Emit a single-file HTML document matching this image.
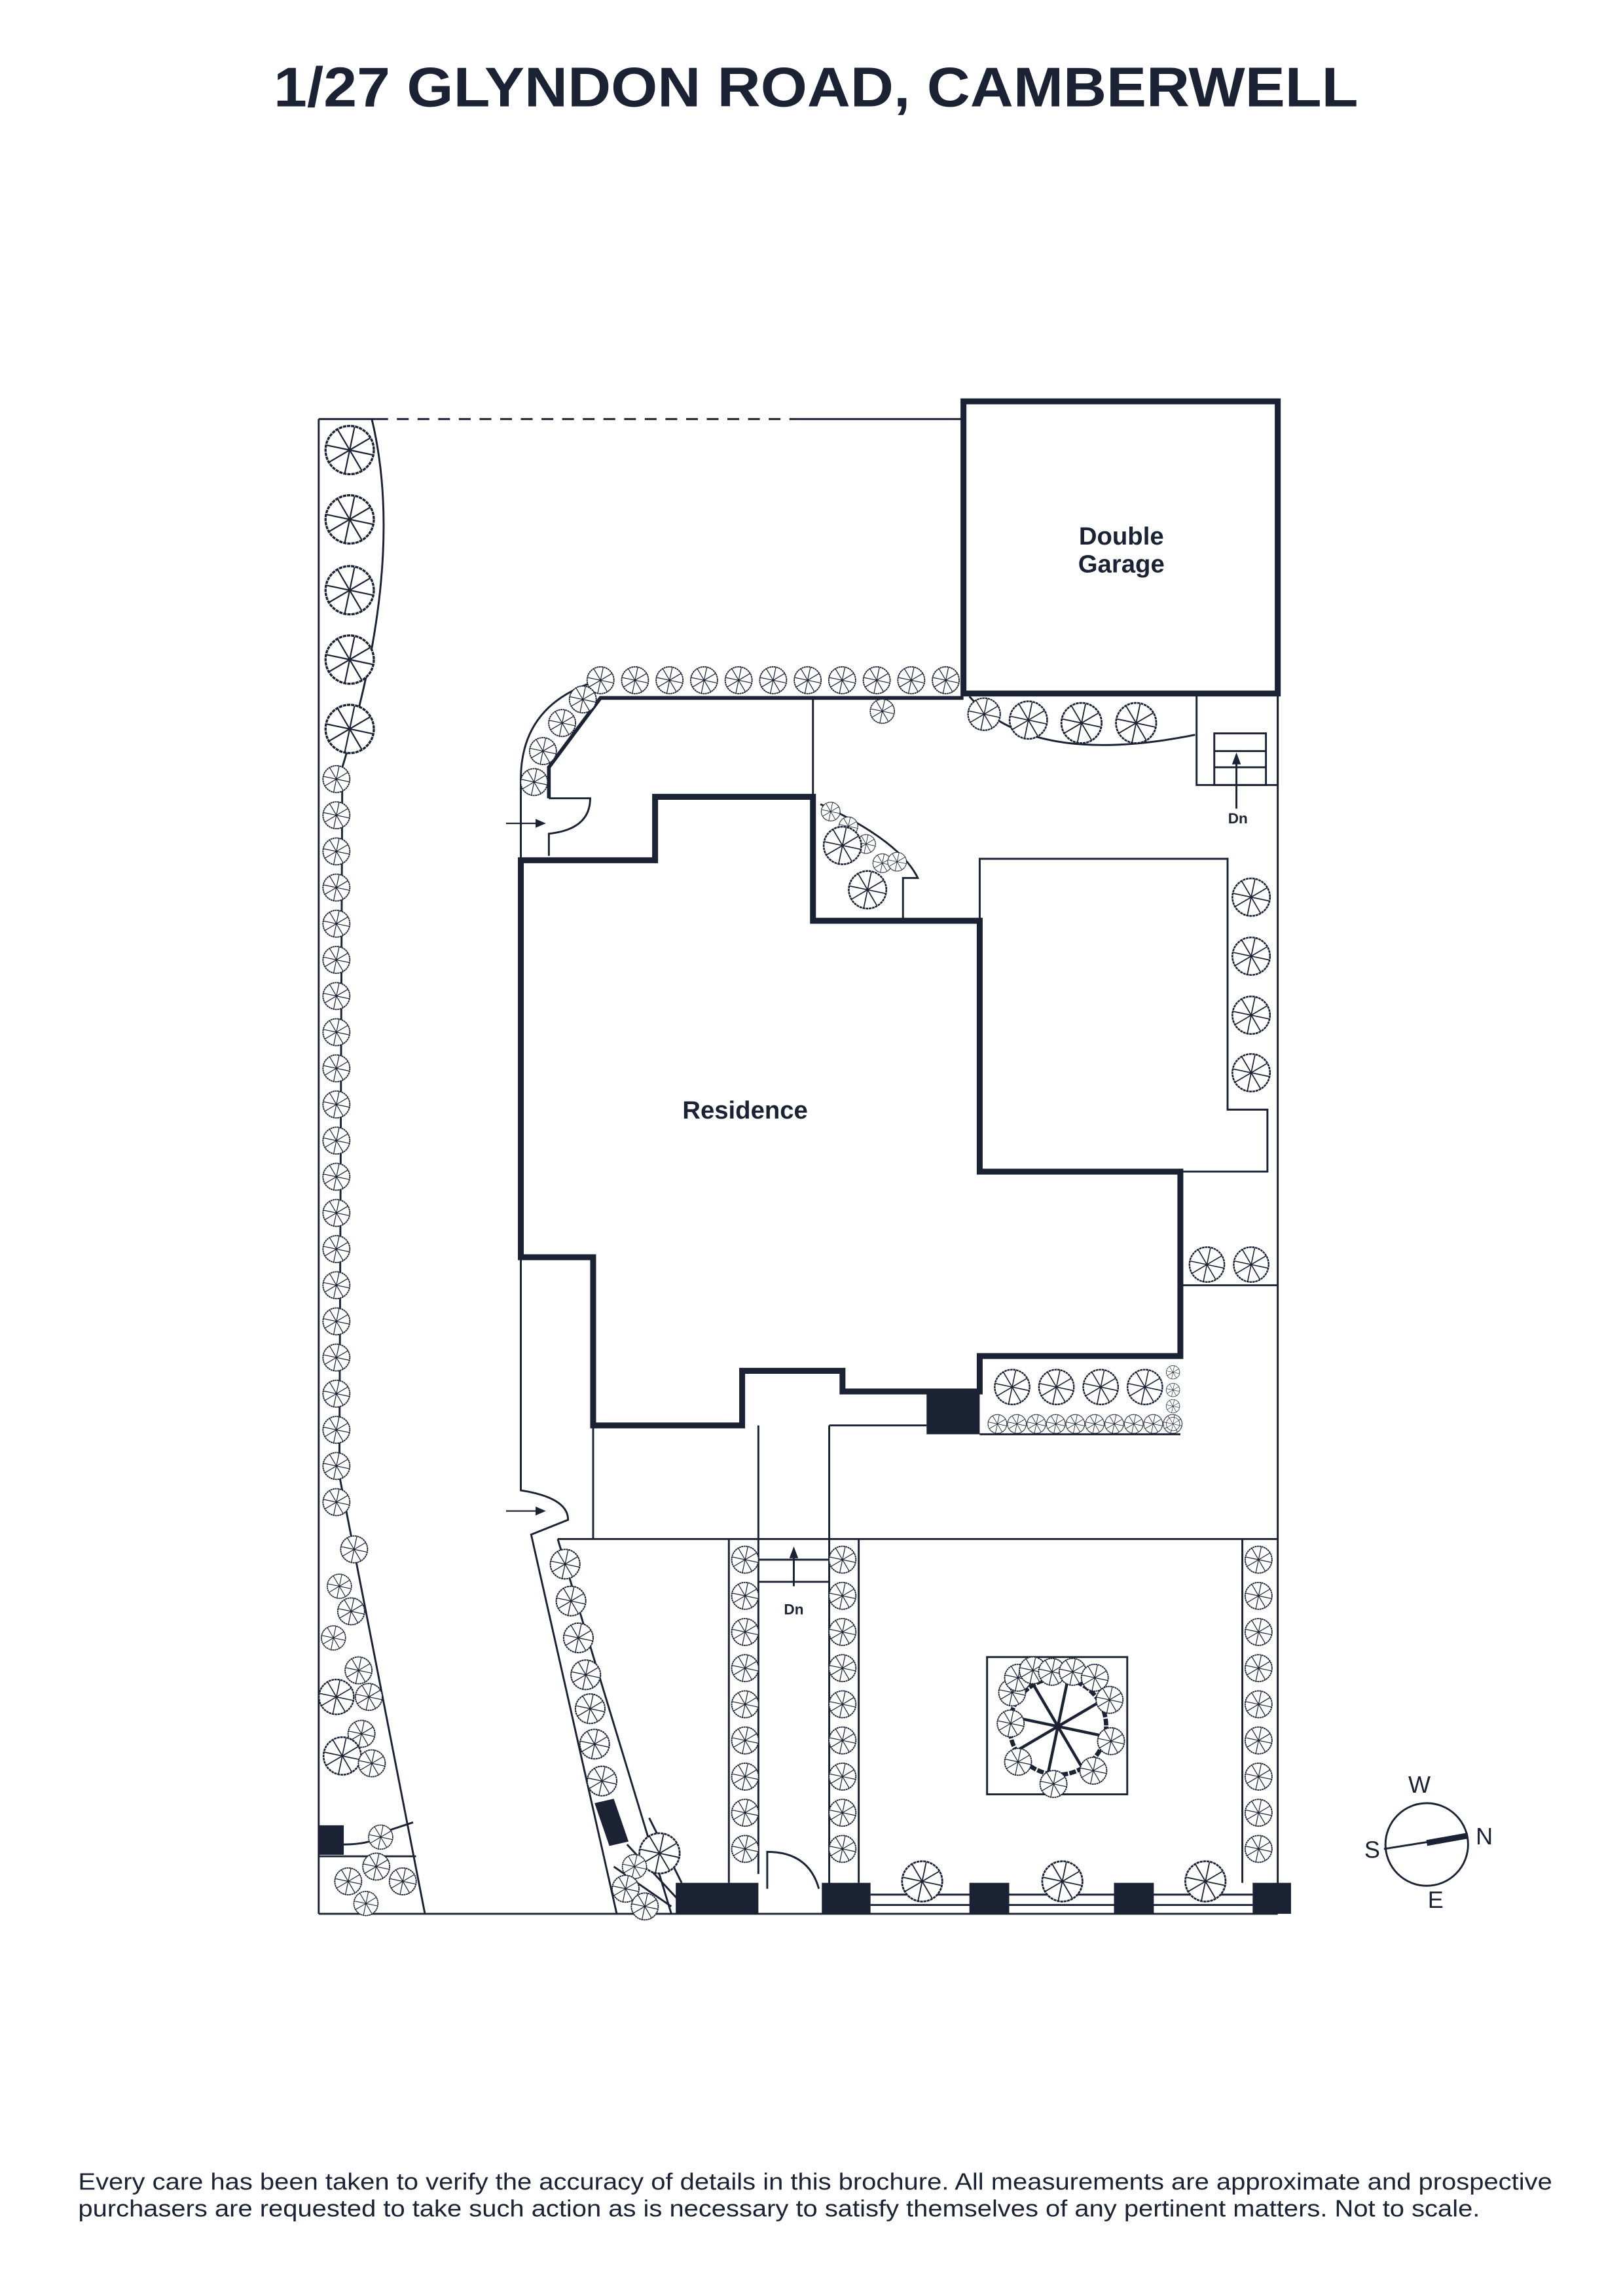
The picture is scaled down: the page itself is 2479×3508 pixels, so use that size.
<!DOCTYPE html>
<html><head><meta charset="utf-8"><style>
html,body{margin:0;padding:0;background:#fff}
svg{display:block}
</style></head><body>
<svg id="s" width="2479" height="3508" viewBox="0 0 1100 1556" preserveAspectRatio="none" xmlns="http://www.w3.org/2000/svg" font-family="Liberation Sans, sans-serif">
<defs>
<symbol id="t" viewBox="-1.1 -1.1 2.2 2.2" overflow="visible">
<circle r="1" fill="#fff" stroke="#1a2233" stroke-width="0.09" stroke-dasharray="0.14 0.03"/>
<g stroke="#1a2233" stroke-width="0.06">
<line x1="0" y1="0" x2="0.2" y2="-0.95"/><line x1="0" y1="0" x2="0.85" y2="-0.5"/><line x1="0" y1="0" x2="0.95" y2="0.2"/><line x1="0" y1="0" x2="0.5" y2="0.85"/><line x1="0" y1="0" x2="-0.2" y2="0.95"/><line x1="0" y1="0" x2="-0.85" y2="0.5"/><line x1="0" y1="0" x2="-0.95" y2="-0.2"/><line x1="0" y1="0" x2="-0.5" y2="-0.85"/>
</g></symbol>
</defs>
<g fill="#1a2233" font-weight="bold">
<text x="553" y="72" font-size="38" text-anchor="middle" textLength="735" lengthAdjust="spacingAndGlyphs">1/27 GLYNDON ROAD, CAMBERWELL</text>
</g>
<g fill="#1a2233" font-size="16">
<text x="53" y="1484" textLength="999" lengthAdjust="spacingAndGlyphs">Every care has been taken to verify the accuracy of details in this brochure. All measurements are approximate and prospective</text>
<text x="53" y="1502" textLength="950" lengthAdjust="spacingAndGlyphs">purchasers are requested to take such action as is necessary to satisfy themselves of any pertinent matters. Not to scale.</text>
</g>
<g fill="none" stroke="#1a2233" stroke-width="1.3">
<line x1="216" y1="284" x2="216" y2="1297"/>
<line x1="216" y1="284" x2="255" y2="284"/>
<line x1="255" y1="284" x2="535" y2="284" stroke-dasharray="8 6"/>
<line x1="535" y1="284" x2="653" y2="284"/>
<line x1="216" y1="1297" x2="866" y2="1297"/>
<line x1="866" y1="470" x2="866" y2="1297"/>
<path d="M252 284 Q275 380 232 520 L230 1000 L288 1297"/>
<path d="M410 460 Q352 475 353 530 L353 583"/>
<line x1="551" y1="473" x2="551" y2="540"/>
<path d="M657 472 Q700 520 810 498"/>
<rect x="811" y="470" width="55" height="62"/>
<rect x="823" y="497" width="35" height="35"/>
<line x1="823" y1="509" x2="858" y2="509"/><line x1="823" y1="520" x2="858" y2="520"/>
<line x1="838" y1="548" x2="838" y2="514"/>
<path d="M664 624 L664 582 L832 582 L832 752 L859 752 L859 794 L800 794"/>
<line x1="800" y1="871" x2="866" y2="871"/>
<line x1="664" y1="972" x2="800" y2="972"/>
<path d="M556 545 Q610 570 622 595 L612 595 L612 624"/>
<line x1="402" y1="966" x2="402" y2="1043"/>
<line x1="378" y1="1043" x2="866" y2="1043"/>
<line x1="514" y1="966" x2="514" y2="1270"/>
<line x1="562" y1="966" x2="562" y2="1278"/>
<line x1="562" y1="966" x2="628" y2="966"/>
<line x1="494" y1="1043" x2="494" y2="1276"/><line x1="582" y1="1043" x2="582" y2="1276"/>
<line x1="514" y1="1057" x2="562" y2="1057"/><line x1="514" y1="1072" x2="562" y2="1072"/>
<line x1="538" y1="1075" x2="538" y2="1052"/>
<line x1="842" y1="1043" x2="842" y2="1276"/>
<path d="M353 852 L353 1010 Q385 1015 385 1030 L360 1040 L418 1297"/>
<path d="M372 541 L372 520 M372 580 L372 565 Q400 562 400 541 L372 541"/>
<line x1="378" y1="1043" x2="455" y2="1297"/>
<line x1="425" y1="1250" x2="462" y2="1290"/>
<line x1="416" y1="1265" x2="455" y2="1292"/>
<line x1="440" y1="1232" x2="462" y2="1276"/>
<path d="M520 1280 L520 1255 Q548 1255 555 1280"/>
<line x1="590" y1="1284" x2="849" y2="1284"/><line x1="590" y1="1291" x2="849" y2="1291"/>
<rect x="669" y="1123" width="95" height="93"/>
<line x1="216" y1="1258" x2="282" y2="1258"/>
<path d="M233 1250 Q255 1250 265 1240 L280 1235"/>
<circle cx="967" cy="1250" r="28"/>
</g>
<line x1="938" y1="1253" x2="995" y2="1244" stroke="#1a2233" stroke-width="1.3"/>
<line x1="967" y1="1249" x2="995" y2="1244" stroke="#1a2233" stroke-width="4"/>
<g fill="#1a2233" stroke="none">
<polygon points="838,510 835,518 841,518"/>
<polygon points="538,1048 535,1056 541,1056"/>
<polygon points="370,558 363,555 363,561"/>
<polygon points="370,1024 363,1021 363,1027"/>
<rect x="628" y="943" width="36" height="29"/>
<rect x="458" y="1276" width="56" height="21"/>
<rect x="557" y="1276" width="33" height="21"/>
<rect x="657" y="1276" width="27" height="21"/>
<rect x="755" y="1276" width="27" height="21"/>
<rect x="849" y="1276" width="26" height="21"/>
<rect x="216" y="1237" width="17" height="20"/>
<polygon points="403,1222 416,1219 426,1248 413,1251"/>
</g>
<g stroke="#1a2233" stroke-width="1">
<line x1="343" y1="558" x2="365" y2="558"/><line x1="343" y1="1024" x2="365" y2="1024"/>
</g>
<rect x="653" y="272" width="213" height="198" fill="none" stroke="#1a2233" stroke-width="4"/>
<path d="M653 473 L407 473 L372 520 L372 541" fill="none" stroke="#1a2233" stroke-width="2.5"/>
<polygon points="353,583 444,583 444,540 551,540 551,624 664,624 664,794 800,794 800,919 664,919 664,943 571,943 571,929 503,929 503,966 402,966 402,852 353,852" fill="none" stroke="#1a2233" stroke-width="4"/>
<g id="trees"></g>
<g fill="#1a2233" font-weight="bold">
<text x="760" y="369" font-size="17" text-anchor="middle">Double</text>
<text x="760" y="388" font-size="17" text-anchor="middle">Garage</text>
<text x="505" y="758" font-size="17" text-anchor="middle">Residence</text>
<text x="839" y="558" font-size="10" text-anchor="middle">Dn</text>
<text x="538" y="1094" font-size="10" text-anchor="middle">Dn</text>
</g>
<g fill="#1a2233" font-size="16">
<text x="962" y="1215" text-anchor="middle">W</text>
<text x="1006" y="1250" text-anchor="middle">N</text>
<text x="930" y="1259" text-anchor="middle">S</text>
<text x="973" y="1293" text-anchor="middle">E</text>
</g>
</svg>
<script>
var g=document.getElementById('trees'),N='http://www.w3.org/2000/svg';
function T(x,y,r){var u=document.createElementNS(N,'use');u.setAttribute('href','#t');u.setAttribute('x',x-r);u.setAttribute('y',y-r);u.setAttribute('width',2*r);u.setAttribute('height',2*r);g.appendChild(u);}
[305,352,400,447,494].forEach(function(y){T(237,y,18)});
for(var y=528;y<=1020;y+=24.5)T(228,y,10);
[[240,1050,10],[230,1075,9],[238,1092,10],[226,1110,9],[243,1132,10],[228,1150,13],[250,1150,10],[245,1175,10],[232,1190,14],[252,1195,10],[236,1275,10],[255,1265,10],[248,1290,9],[273,1275,10],[258,1245,9]].forEach(function(a){T(a[0],a[1],a[2])});
for(var x=407;x<=641;x+=23.4)T(x,461,10);
[[395,474,10],[381,490,10],[368,509,10],[362,530,10],[598,482,9],[667,484,12],[697,488,14],[733,490,15],[770,490,15]].forEach(function(a){T(a[0],a[1],a[2])});
[[563,550,7],[575,560,7],[587,572,7],[571,573,14],[598,585,7],[608,584,7],[588,603,14]].forEach(function(a){T(a[0],a[1],a[2])});
[608,648,688,727].forEach(function(y){T(848,y,14)});
T(818,857,13);T(848,857,13);
[686,716,746,776].forEach(function(x){T(x,940,13)});
for(var x=676;x<=795;x+=13.2)T(x,965,7);
[930,942,953,965].forEach(function(y){T(795,y,5)});
for(var y=1057;y<=1272;y+=24.5){T(505,y,10);T(571,y,10);T(853,y,10);}
[[383,1060],[387,1085],[392,1110],[397,1135],[400,1158],[403,1182],[408,1207]].forEach(function(a){T(a[0],a[1],11)});
[[447,1256,15],[430,1265,9],[424,1280,10],[437,1292,10]].forEach(function(a){T(a[0],a[1],a[2])});
[625,720,817].forEach(function(x){T(x,1275,15)});
T(717,1170,36);
[[686,1147],[690,1137],[700,1132],[713,1133],[727,1133],[742,1137],[752,1152],[753,1180],[741,1200],[714,1209],[690,1194],[685,1168]].forEach(function(a){T(a[0],a[1],10)});
</script>
</body></html>
